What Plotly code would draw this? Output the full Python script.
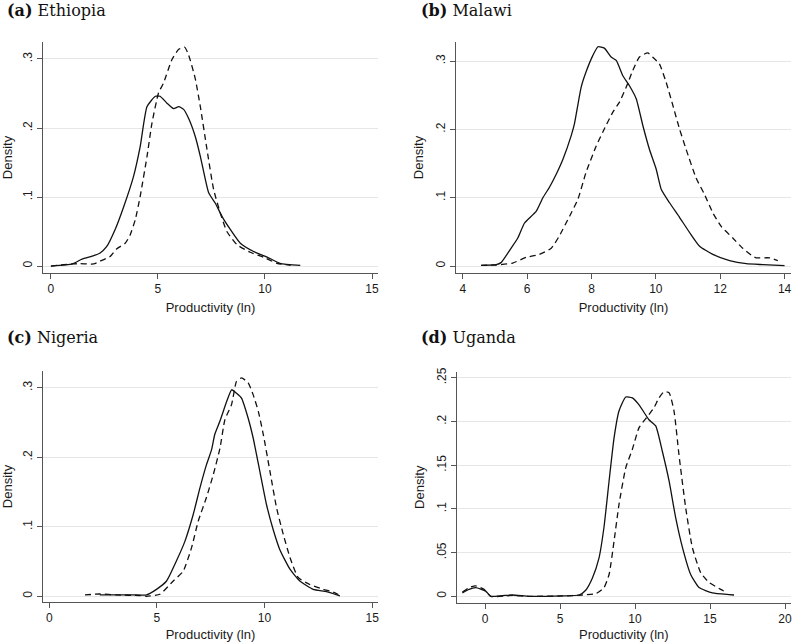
import plotly.graph_objects as go

# ---------------- data ----------------
eth_solid_x = [0.0, 1.0, 1.45, 2.0, 2.3, 2.6, 3.0, 3.4, 3.86, 4.17, 4.49, 4.88, 5.1, 5.42, 5.73, 5.97, 6.2, 6.43, 6.74, 6.98, 7.37, 7.68, 7.99, 8.38, 8.85, 9.47, 10.1, 10.7, 11.65]
eth_solid_y = [0.0, 0.003, 0.010, 0.015, 0.019, 0.028, 0.053, 0.086, 0.130, 0.173, 0.231, 0.246, 0.246, 0.236, 0.228, 0.231, 0.227, 0.214, 0.188, 0.159, 0.106, 0.091, 0.072, 0.053, 0.033, 0.021, 0.013, 0.004, 0.001]
eth_dash_x = [0.0, 1.0, 1.37, 2.0, 2.3, 2.77, 3.08, 3.47, 3.7, 3.94, 4.17, 4.49, 4.72, 5.03, 5.26, 5.65, 5.97, 6.25, 6.43, 6.74, 6.98, 7.29, 7.6, 7.91, 8.22, 8.69, 9.31, 9.94, 10.56, 11.2]
eth_dash_y = [0.0, 0.003, 0.0034, 0.003, 0.007, 0.014, 0.025, 0.033, 0.045, 0.067, 0.101, 0.159, 0.207, 0.251, 0.265, 0.299, 0.314, 0.317, 0.306, 0.272, 0.231, 0.169, 0.111, 0.077, 0.050, 0.031, 0.020, 0.0126, 0.004, 0.001]

mal_solid_x = [4.57, 5.04, 5.19, 5.5, 5.71, 5.92, 6.28, 6.49, 6.69, 6.9, 7.11, 7.37, 7.47, 7.68, 7.83, 8.04, 8.2, 8.4, 8.61, 8.77, 8.97, 9.18, 9.39, 9.6, 9.8, 10.01, 10.17, 10.42, 10.74, 11.05, 11.36, 11.77, 12.29, 12.81, 13.33, 14.0]
mal_solid_y = [0.001, 0.002, 0.005, 0.026, 0.041, 0.063, 0.080, 0.100, 0.115, 0.134, 0.156, 0.191, 0.208, 0.262, 0.284, 0.308, 0.321, 0.319, 0.306, 0.301, 0.279, 0.264, 0.245, 0.205, 0.171, 0.142, 0.112, 0.093, 0.071, 0.049, 0.029, 0.017, 0.008, 0.0034, 0.002, 0.0005]
mal_dash_x = [4.57, 5.04, 5.55, 5.97, 6.38, 6.75, 7.0, 7.32, 7.58, 7.83, 8.15, 8.35, 8.66, 8.87, 9.08, 9.28, 9.49, 9.75, 9.9, 10.11, 10.32, 10.53, 10.74, 10.94, 11.25, 11.51, 11.77, 12.03, 12.39, 12.7, 13.02, 13.12, 13.53, 13.79]
mal_dash_y = [0.001, 0.0015, 0.0044, 0.0127, 0.017, 0.026, 0.044, 0.073, 0.098, 0.137, 0.176, 0.196, 0.225, 0.240, 0.262, 0.286, 0.306, 0.312, 0.306, 0.296, 0.269, 0.235, 0.200, 0.171, 0.129, 0.105, 0.078, 0.058, 0.041, 0.026, 0.014, 0.012, 0.012, 0.008]

nig_solid_x = [2.35, 3.9, 4.52, 4.98, 5.45, 5.91, 6.3, 6.69, 7.0, 7.3, 7.54, 7.69, 7.93, 8.24, 8.47, 8.7, 8.93, 9.24, 9.47, 9.78, 10.09, 10.4, 10.71, 11.18, 11.64, 12.26, 12.88, 13.5]
nig_solid_y = [0.002, 0.002, 0.002, 0.010, 0.022, 0.051, 0.079, 0.118, 0.156, 0.189, 0.211, 0.233, 0.252, 0.280, 0.297, 0.292, 0.285, 0.256, 0.228, 0.180, 0.132, 0.096, 0.067, 0.039, 0.022, 0.010, 0.0067, 0.0005]
nig_dash_x = [1.66, 2.35, 3.13, 4.21, 4.52, 5.14, 5.76, 6.22, 6.61, 6.92, 7.3, 7.62, 7.93, 8.16, 8.47, 8.7, 8.93, 9.24, 9.47, 9.71, 9.94, 10.25, 10.56, 10.87, 11.18, 11.56, 12.1, 12.72, 13.19, 13.58]
nig_dash_y = [0.002, 0.0033, 0.002, 0.001, 0.0, 0.003, 0.022, 0.036, 0.070, 0.108, 0.142, 0.175, 0.213, 0.254, 0.276, 0.309, 0.314, 0.307, 0.290, 0.266, 0.233, 0.180, 0.127, 0.089, 0.056, 0.027, 0.017, 0.010, 0.006, 0.0]

uga_solid_x = [-1.51, -1.07, -0.62, 0.04, 0.38, 1.16, 1.82, 2.93, 4.04, 5.16, 6.27, 6.71, 7.16, 7.6, 7.93, 8.27, 8.6, 8.93, 9.38, 9.82, 10.27, 10.93, 11.38, 11.82, 12.27, 12.71, 13.16, 13.71, 14.27, 15.16, 16.27, 16.6]
uga_solid_y = [0.004, 0.008, 0.0099, 0.006, 0.0, 0.0008, 0.0015, 0.0, 0.0, 0.0004, 0.0015, 0.007, 0.021, 0.044, 0.079, 0.132, 0.181, 0.212, 0.228, 0.227, 0.219, 0.202, 0.195, 0.166, 0.132, 0.090, 0.056, 0.025, 0.010, 0.004, 0.002, 0.0015]
uga_dash_x = [-1.51, -1.07, -0.62, -0.07, 0.38, 1.82, 2.93, 5.16, 6.49, 7.38, 7.93, 8.27, 8.6, 8.93, 9.38, 9.82, 10.27, 10.93, 11.27, 11.6, 11.93, 12.27, 12.6, 12.93, 13.38, 13.82, 14.38, 14.93, 15.71, 16.04]
uga_dash_y = [0.005, 0.0099, 0.012, 0.008, 0.0, 0.001, 0.0, 0.0004, 0.0015, 0.003, 0.0099, 0.025, 0.063, 0.105, 0.147, 0.168, 0.193, 0.208, 0.216, 0.227, 0.234, 0.233, 0.212, 0.162, 0.101, 0.056, 0.027, 0.016, 0.008, 0.005]

panel_labels = ["(a)", "(b)", "(c)", "(d)"]
panel_names = ["Ethiopia", "Malawi", "Nigeria", "Uganda"]

x_ticks_eth = [0, 5, 10, 15]
x_ticks_mal = [4, 6, 8, 10, 12, 14]
x_ticks_nig = [0, 5, 10, 15]
x_ticks_uga = [0, 5, 10, 15, 20]

y_ticks_a = [0, 0.1, 0.2, 0.3]
y_text_a = ["0", ".1", ".2", ".3"]
y_ticks_d = [0, 0.05, 0.1, 0.15, 0.2, 0.25]
y_text_d = ["0", ".05", ".1", ".15", ".2", ".25"]

x_title = "Productivity (ln)"
y_title = "Density"

# ---------------- layout helpers ----------------
W, H = 792, 642

def dom_x(a, b):
    return [a / W, b / W]

def dom_y(top, bottom):
    return [1 - bottom / H, 1 - top / H]

panels = [
    dict(sx=eth_solid_x, sy=eth_solid_y, dx=eth_dash_x, dy=eth_dash_y,
         xd=dom_x(43, 378), yd=dom_y(42, 273), xr=[-0.37, 15.28], yr=[-0.0101, 0.3246],
         xt=x_ticks_eth, yt=y_ticks_a, ytt=y_text_a, tx=5, ty=11),
    dict(sx=mal_solid_x, sy=mal_solid_y, dx=mal_dash_x, dy=mal_dash_y,
         xd=dom_x(456, 791), yd=dom_y(42, 273), xr=[3.79, 14.2], yr=[-0.0102, 0.328],
         xt=x_ticks_mal, yt=y_ticks_a, ytt=y_text_a, tx=419, ty=11),
    dict(sx=nig_solid_x, sy=nig_solid_y, dx=nig_dash_x, dy=nig_dash_y,
         xd=dom_x(43, 378), yd=dom_y(371, 602), xr=[-0.29, 15.27], yr=[-0.0082, 0.324],
         xt=x_ticks_nig, yt=y_ticks_a, ytt=y_text_a, tx=5, ty=338),
    dict(sx=uga_solid_x, sy=uga_solid_y, dx=uga_dash_x, dy=uga_dash_y,
         xd=dom_x(456.7, 791), yd=dom_y(371.7, 602.7), xr=[-1.89, 20.4], yr=[-0.0073, 0.257],
         xt=x_ticks_uga, yt=y_ticks_d, ytt=y_text_d, tx=419, ty=338),
]

fig = go.Figure()
layout = dict(
    width=W, height=H, margin=dict(l=0, r=0, t=0, b=0, autoexpand=False),
    paper_bgcolor="white", plot_bgcolor="white", showlegend=False,
    font=dict(family="Liberation Sans, Arial, sans-serif", color="#1a1a1a"),
)
annotations = []

for i, p in enumerate(panels):
    n = "" if i == 0 else str(i + 1)
    xa, ya = "x" + n, "y" + n
    fig.add_trace(go.Scatter(x=p["sx"], y=p["sy"], mode="lines", xaxis=xa, yaxis=ya,
                             line=dict(color="#111111", width=1.3, shape="spline", smoothing=0.5)))
    fig.add_trace(go.Scatter(x=p["dx"], y=p["dy"], mode="lines", xaxis=xa, yaxis=ya,
                             line=dict(color="#111111", width=1.3, dash="6px,4px", shape="spline", smoothing=0.5)))
    layout["xaxis" + n] = dict(
        domain=p["xd"], range=p["xr"], anchor=ya, tickvals=p["xt"], automargin=False,
        showgrid=False, zeroline=False, showline=True, linecolor="#555555", linewidth=1,
        ticks="outside", ticklen=5, tickcolor="#555555",
        tickfont=dict(size=12, color="#1a1a1a"),
        title=dict(text=x_title, font=dict(size=13, color="#1a1a1a"), standoff=7),
    )
    layout["yaxis" + n] = dict(
        domain=p["yd"], range=p["yr"], anchor=xa, tickvals=p["yt"], ticktext=p["ytt"],
        automargin=False,
        tickangle=-90, showgrid=True, gridcolor="#e6e6e6", gridwidth=1,
        zeroline=False, showline=True, linecolor="#555555", linewidth=1,
        ticks="outside", ticklen=5, tickcolor="#555555",
        tickfont=dict(size=12, color="#1a1a1a"),
        title=dict(text=y_title, font=dict(size=13, color="#1a1a1a"), standoff=7),
    )
    annotations.append(dict(
        text="<b>" + panel_labels[i] + "</b> " + panel_names[i],
        xref="paper", yref="paper", x=p["tx"] / W, y=1 - p["ty"] / H,
        xanchor="left", yanchor="middle", showarrow=False,
        font=dict(family="DejaVu Serif, serif", size=16, color="#111111"),
    ))

layout["annotations"] = annotations
fig.update_layout(**layout)
fig.write_html("out.html", config={"displayModeBar": False},
               post_script="document.body.style.margin='0';document.body.style.overflow='hidden';")
